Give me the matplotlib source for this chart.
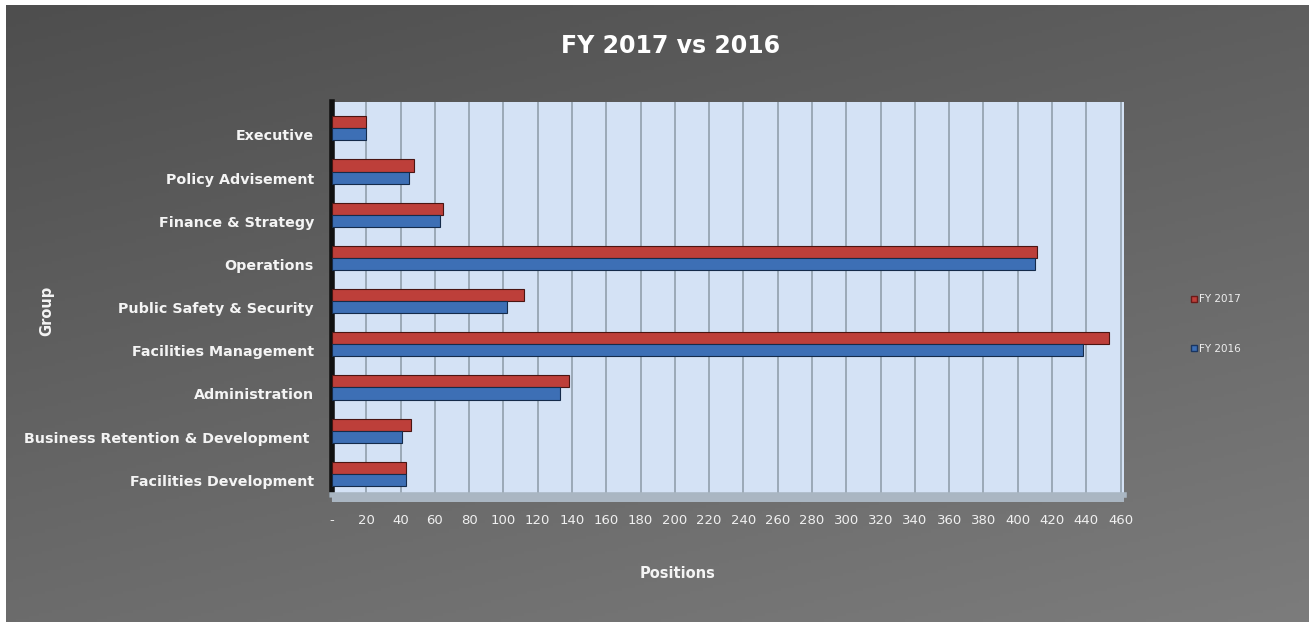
import numpy as np
import matplotlib
matplotlib.use("Agg")
import matplotlib.pyplot as plt
from matplotlib.transforms import ScaledTranslation
from matplotlib.patches import Rectangle
from matplotlib.lines import Line2D

categories = ["Executive", "Policy Advisement", "Finance & Strategy", "Operations",
              "Public Safety & Security", "Facilities Management", "Administration",
              "Business Retention & Development ", "Facilities Development"]
fy2017 = [20, 48, 65, 411, 112, 453, 138, 46, 43]
fy2016 = [20, 45, 63, 410, 102, 438, 133, 41, 43]
xticks = list(range(0, 461, 20))
xticklabels = ["-"] + [str(v) for v in xticks[1:]]

W, H = 1316, 622
fig = plt.figure(figsize=(W / 100, H / 100), dpi=100)
fig.patch.set_facecolor("white")

# gradient background panel (dark top-left -> lighter bottom-right)
bg = fig.add_axes([6 / W, 0, (1309 - 6) / W, (622 - 5) / H])
yy, xx = np.mgrid[0:1:200j, 0:1:400j]
grad = 0.35 * xx + 0.65 * yy
grad = (grad - grad.min()) / (grad.max() - grad.min())
c0 = np.array([0x4e, 0x4e, 0x4e]) / 255
c1 = np.array([0x7c, 0x7c, 0x7c]) / 255
img = c0[None, None, :] * (1 - grad[..., None]) + c1[None, None, :] * grad[..., None]
bg.imshow(img, aspect="auto", extent=[0, 1, 0, 1], origin="upper")
bg.set_axis_off()

# plot axes
left, right, top, bottom = 332, 1124, 102, 495
ax = fig.add_axes([left / W, 1 - bottom / H, (right - left) / W, (bottom - top) / H])
ax.set_facecolor("#d4e2f5")
ax.set_zorder(2)

y = np.arange(len(categories))
h = 0.28
ax.barh(y - h / 2, fy2017, height=h, color="#bd3f3a", edgecolor="#4a1512", linewidth=0.8,
        label="FY 2017", zorder=3)
ax.barh(y + h / 2, fy2016, height=h, color="#3d6fb5", edgecolor="#152b4a", linewidth=0.8,
        label="FY 2016", zorder=3)

ax.set_xlim(0, 462)
ax.set_ylim(len(categories) - 1 + 0.49, -0.61)
ax.set_xticks(xticks)
ax.set_xticklabels(xticklabels, color="#f0f0f0", fontsize=9.5)
ax.grid(axis="x", color="#8c9aa6", linewidth=1.1, zorder=1)
ax.set_axisbelow(True)
ax.tick_params(axis="x", length=4, color="#b8c4cc", pad=10)
ax.set_yticks(y)
ax.set_yticklabels(categories, color="#f4f4f4", fontsize=10.3, fontweight="bold")
ax.tick_params(axis="y", length=0, pad=13)
for lab in ax.get_yticklabels():
    lab.set_transform(lab.get_transform() + ScaledTranslation(0, -6.5 / 100, fig.dpi_scale_trans))

for s in ["top", "right"]:
    ax.spines[s].set_visible(False)
ax.spines["left"].set_color("#111111")
ax.spines["left"].set_linewidth(4)
ax.spines["bottom"].set_color("#a9b6c2")
ax.spines["bottom"].set_linewidth(4)

# floor edge
ax.add_patch(Rectangle((0, -0.018), 1.0, 0.018, transform=ax.transAxes, facecolor="#aab6c2",
                       edgecolor="none", clip_on=False, zorder=4))

fig.text(671 / W, 1 - 46 / H, "FY 2017 vs 2016", ha="center", va="center", color="white",
         fontsize=17, fontweight="bold")
fig.text(678 / W, 1 - 574 / H, "Positions", ha="center", va="center", color="#f4f4f4",
         fontsize=10.5, fontweight="bold")
fig.text(47 / W, 1 - 311 / H, "Group", ha="center", va="center", color="#f4f4f4",
         fontsize=10.5, fontweight="bold", rotation=90)

handles = [Line2D([], [], marker="s", linestyle="none", markersize=5, markerfacecolor="#bd3f3a",
                  markeredgecolor="#6a1a18"),
           Line2D([], [], marker="s", linestyle="none", markersize=5, markerfacecolor="#3d6fb5",
                  markeredgecolor="#1a3560")]
leg = fig.legend(handles, ["FY 2017", "FY 2016"], loc="center left",
                 bbox_to_anchor=(1189 / W, 1 - 324 / H), frameon=False, fontsize=7.5,
                 labelcolor="#eeeeee", handletextpad=0.0, handlelength=1.0, labelspacing=3.8,
                 borderaxespad=0, borderpad=0)

fig.savefig("out.png", dpi=100, facecolor=fig.get_facecolor())
